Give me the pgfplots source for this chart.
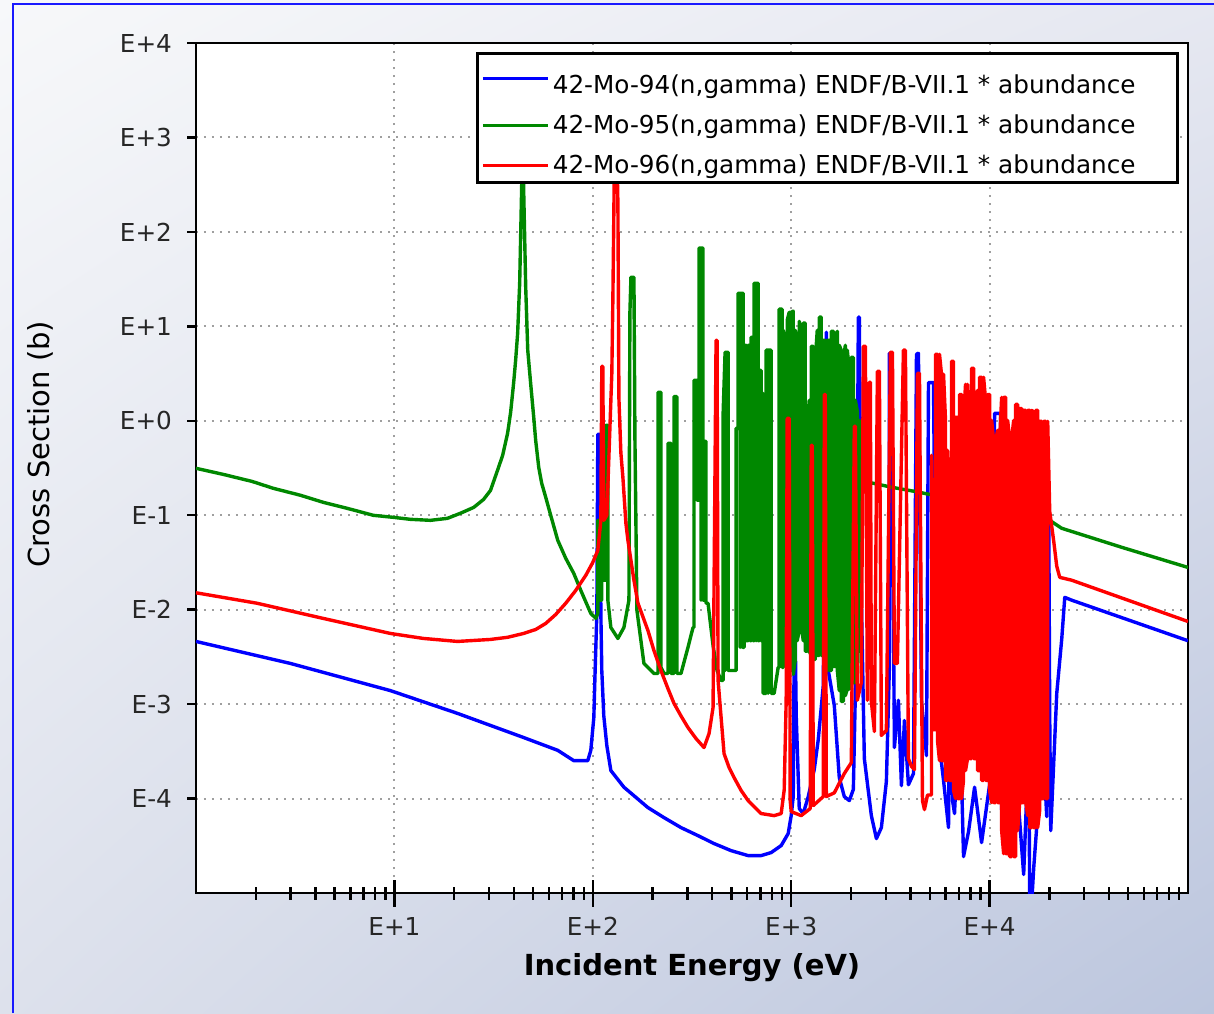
\documentclass[border=0pt]{standalone}
\usepackage{pgfplots}
\pgfplotsset{compat=1.18}
\usepackage{fontspec}
\setmainfont{DejaVu Sans}
\usetikzlibrary{calc,shadings}

\definecolor{moblue}{RGB}{0,0,255}
\definecolor{mogreen}{RGB}{0,136,0}
\definecolor{mored}{RGB}{255,0,0}
\definecolor{bgul}{RGB}{247,248,250}
\definecolor{bgur}{RGB}{230,232,241}
\definecolor{bgll}{RGB}{221,225,236}
\definecolor{bglr}{RGB}{188,198,222}
\definecolor{frameblue}{RGB}{25,25,255}

\begin{document}
\begin{tikzpicture}
% page background, in pixel units of the screenshot
\begin{scope}[x=0.5pt,y=0.5pt]
  \useasboundingbox (-196,-120) rectangle (1018,893);
  \shade[upper left=bgul, upper right=bgur, lower left=bgll, lower right=bglr]
    (-196,-120) rectangle (1018,893);
  \draw[frameblue, line width=1pt] (-183,-120) -- (-183,889) -- (1018,889);
\end{scope}
\begin{axis}[
  at={(0,0)}, anchor=south west,
  scale only axis, width=496pt, height=425pt,
  xmode=log, ymode=log,
  xmin=1, xmax=1e5, ymin=1e-5, ymax=1e4,
  axis background/.style={fill=white},
  axis line style={line width=1.2pt, black},
  tick style={line width=1.2pt, black},
  major tick length=13.5pt, minor tick length=6.5pt,
  xtick align=center,
  ytick align=outside,
  ytick style={/pgfplots/major tick length=4.5pt},
  tick pos=left,
  xtick={10,100,1000,10000},
  xticklabels={E+1,E+2,E+3,E+4},
  minor xtick={2,3,4,5,6,7,8,9,20,30,40,50,60,70,80,90,200,300,400,500,600,700,800,900,
    2000,3000,4000,5000,6000,7000,8000,9000,2e4,3e4,4e4,5e4,6e4,7e4,8e4,9e4},
  ytick={1e-4,1e-3,1e-2,1e-1,1,10,100,1000,10000},
  yticklabels={E-4,E-3,E-2,E-1,E+0,E+1,E+2,E+3,E+4},
  yminorticks=false,
  xmajorgrids, ymajorgrids,
  major grid style={gray!75, line width=1pt, dash pattern=on 1pt off 3pt},
  tick label style={font=\fontsize{12.35}{14}\selectfont, text=black!85},
  xticklabel style={yshift=-2pt},
  yticklabel style={xshift=5pt},
  xlabel={Incident Energy (eV)},
  ylabel={Cross Section (b)},
  every axis x label/.style={at={($(rel axis cs:0.5,0)+(0pt,-41pt)$)}, anchor=base,
    font=\bfseries\fontsize{14.5}{17}\selectfont},
  every axis y label/.style={at={($(rel axis cs:0,0.528)+(-78pt,0pt)$)}, anchor=center,
    rotate=90, font=\fontsize{14.5}{17}\selectfont},
  legend style={at={(rel axis cs:0.991,0.989)}, anchor=north east,
    draw=black, line width=1.5pt, fill=white,
    font=\fontsize{12.35}{14}\selectfont,
    inner xsep=1.75pt, inner ysep=1pt, row sep=5pt,
    nodes={inner xsep=1.75pt, inner ysep=2pt}},
  legend cell align=left,
  legend image code/.code={\draw[#1, line width=1.5pt] (0pt,0pt) -- (32.5pt,0pt);},
]

% 42-Mo-94
\addplot[moblue, line width=1.7pt, line join=round] coordinates {
(1,4.61e-3) (2.984,2.70e-3) (9.55,1.39e-3) (20.8,7.98e-4) (44.8,4.43e-4)
(66.6,3.24e-4) (80.2,2.52e-4) (94.34,2.52e-4) (97.7,3.24e-4) (101.2,7.21e-4)
(102.4,1.78e-3) (104.8,9.13e-3) (106.0,0.719) (108.5,0.719)
(109.8,9.13e-3) (111.0,2.27e-3) (113.6,7.52e-4) (117.7,3.63e-4) (123.3,1.98e-4)
(143.5,1.32e-4) (189.6,8.03e-5) (228.4,6.29e-5) (278.3,4.93e-5) (339.1,4.05e-5)
(408.4,3.34e-5) (497.7,2.81e-5) (606.5,2.49e-5) (705.5,2.49e-5) (792.5,2.68e-5)
(890.2,3.18e-5) (965.6,4.26e-5) (1000,6.60e-5) (1024,1.05e-4) (1036,5.21e-3) (1048,5.21e-3)
(1060,7.50e-4) (1098,7.84e-5) (1150,6.94e-5) (1219,1.05e-4) (1307,2.03e-4)
(1369,4.22e-4) (1451,1.57e-3) (1503,8.66) (1538,2.27e-3) (1649,9.68e-4)
(1747,1.67e-4) (1852,1.05e-4) (1963,9.52e-5) (2057,1.25e-4) (2130,4.28e-3)
(2180,12.5) (2205,12.5) (2257,1.32e-2) (2337,2.65e-4) (2535,6.60e-5)
(2688,3.77e-5) (2848,4.93e-5) (3018,1.52e-4) (3126,2.50e-3) (3126,5.19)
(3200,5.19) (3313,3.47e-4) (3470,1.10e-3) (3594,1.37e-4) (3722,6.71e-4)
(3898,1.40e-4) (4133,1.84e-4) (4280,5.06) (4379,5.19) (4535,1.10e-3)
(4807,2.85e-4) (4920,2.54) (5214,2.54) (5399,6.71e-4) (5859,1.56e-4)
(6208,4.93e-5) (6429,0.314) (6505,9.52e-5) (6656,6.94e-5) (7055,1.10e-3)
(7390,2.43e-5) (7832,4.47e-5) (8400,1.32e-4) (9112,3.42e-5) (1.0e4,1.40e-4)
(1.06e4,1.20) (1.136e4,1.20) (1.15e4,7.65e-5) (1.191e4,5.85e-5) (1.292e4,4.47e-5)
(1.369e4,1.56e-4) (1.485e4,1.57e-5) (1.575e4,4.11e-4) (1.593e4,8e-6) (1.631e4,8e-6)
(1.669e4,1.86e-5) (1.727e4,4.93e-5) (1.852e4,4.6e-4) (1.941e4,6.45e-5) (1.986e4,0.132)
(2.009e4,7.52e-4) (2.033e4,4.58e-5) (2.18e4,1.30e-3) (2.311e4,4.96e-3) (2.392e4,1.35e-2)
(2.595e4,1.26e-2) (1e5,4.69e-3)
};
\addlegendentry{\rule{0pt}{17pt}42-Mo-94(n,gamma) ENDF/B-VII.1 * abundance\hspace*{17.5pt}}

% 42-Mo-95
\addplot[mogreen, line width=1.7pt, line join=round] coordinates {
(1,0.314) (1.369,0.271) (1.918,0.228) (2.448,0.193) (3.352,0.163) (4.379,0.137)
(5.995,0.116) (7.832,9.98e-2) (9.88,9.50e-2) (12.05,9.05e-2) (15.21,8.83e-2)
(18.5,9.27e-2) (21.54,0.105) (25.1,0.121) (28.15,0.147) (30.5,0.183) (33.1,0.299)
(35.12,0.430) (37.2,0.737) (38.54,1.23) (39.9,2.50) (40.84,4.37) (41.8,8.45)
(42.8,28.6) (43.8,299) (44.3,1530) (44.8,299) (45.9,26.0)
(47.0,5.59) (48.6,2.50) (50.4,1.08) (51.53,0.621) (53.4,0.321) (55.26,0.218)
(57.9,0.155) (61.36,9.98e-2) (66.6,5.42e-2) (73.05,3.50e-2)
(80.2,2.42e-2) (87.0,1.60e-2) (97.7,9.13e-3) (103.6,8.08e-3)
(106.0,9.13e-3) (106.0,8.83e-2) (108.5,8.83e-2) (108.5,1.26e-2)
(111.0,1.26e-2) (111.0,0.299) (113.6,0.299) (113.6,2.05e-2)
(116.3,2.05e-2) (116.3,0.896) (119.1,0.896) (119.1,1.26e-2)
(123.3,6.48e-3) (133.8,4.96e-3) (143.5,6.48e-3) (152.1,1.26e-2)
(153.8,13.8) (155.7,33.1) (161.2,33.1) (163.1,0.621) (166.9,9.82e-3)
(181.0,2.70e-3) (203.3,2.11e-3)
(213.0,2.11e-3) (213.0,2.00) (220.5,2.00) (220.5,2.45e-3) (228.4,2.11e-3)
(239.2,2.11e-3) (239.2,0.577) (247.7,0.577) (247.7,2.11e-3)
(256.5,2.11e-3) (256.5,1.80) (265.6,1.80) (265.6,2.11e-3)
(278.3,2.11e-3) (301.8,3.99e-3) (320.0,6.48e-3)
(323.8,6.48e-3) (323.8,2.68) (335.2,2.68) (335.2,0.144)
(343.1,0.144) (343.1,67.3) (351.2,67.3) (351.2,1.26e-2) (351.2,67.3)
(359.4,67.3) (359.4,1.26e-2)
(363.6,1.26e-2) (363.6,0.606) (372.2,0.606) (372.2,1.17e-2)
(380.9,1.17e-2) (403.7,4.18e-3) (423.0,2.27e-3) (443.1,1.78e-3)
(453.5,1.78e-3) (453.5,1.14) (464.2,5.32) (464.2,2.27e-3) (464.2,5.32)
(480.7,5.32) (480.7,2.27e-3)
(515.3,2.27e-3)
(527.5,2.27e-3) (527.5,0.832) (539.9,0.832) (539.9,22.4) (552.6,22.4)
(552.6,3.99e-3) (552.6,22.4) (565.6,22.4) (565.6,3.99e-3) (565.6,22.4)
(572.2,22.4) (572.2,3.99e-3)
(579.0,3.99e-3) (579.0,6.30) (592.7,6.30) (592.7,4.69e-3)
(606.5,4.69e-3) (606.5,6.30) (620.8,6.30) (620.8,4.69e-3)
(628.0,4.69e-3) (628.0,7.67) (642.9,7.67) (642.9,4.69e-3)
(650.5,4.69e-3) (650.5,28.6) (665.6,28.6) (665.6,4.69e-3) (665.6,28.6)
(681.3,28.6) (681.3,4.69e-3)
(689.3,4.69e-3) (689.3,3.42) (705.5,3.42) (705.5,4.69e-3)
(713.7,4.69e-3) (713.7,1.95) (722.1,1.95) (722.1,1.30e-3)
(747.6,1.30e-3) (747.6,5.59) (765.2,5.59) (765.2,1.30e-3) (765.2,5.59)
(792.5,5.59) (792.5,1.30e-3)
(820.6,1.30e-3) (859.7,2.45e-3)
(869.8,2.45e-3) (869.8,15.2) (900.5,15.2) (900.5,2.45e-3)
(911.2,2.45e-3) (911.2,9.09) (932.6,7.12) (932.6,2.57e-3)
(954.6,2.57e-3) (954.6,11.6) (977.0,14.1) (977.0,2.57e-3)
(1000,2.27e-3) (1000,14.1) (1024,14.5) (1024,2.06e-3)
(1048,2.90e-3) (1048,9.09) (1072,7.12) (1072,4.69e-3)
(1098,6.03e-3) (1098,11.3) (1123,9.09) (1123,6.98e-3)
(1150,4.69e-3) (1150,10.8) (1177,10.8) (1177,3.63e-3)
(1205,3.63e-3) (1205,0.875) (1233,1.65) (1233,3.63e-3)
(1262,3.28e-3) (1262,6.15) (1292,6.15) (1292,2.97e-3)
(1322,2.97e-3) (1322,4.37) (1353,9.09) (1353,3.28e-3)
(1385,3.28e-3) (1385,12.5) (1418,12.5) (1418,3.28e-3)
(1451,3.28e-3) (1451,7.12) (1485,7.12) (1485,2.90e-3)
(1521,2.27e-3) (1521,7.12) (1557,7.12) (1557,2.27e-3)
(1593,2.27e-3) (1593,8.87) (1631,8.87) (1631,2.50e-3)
(1669,2.50e-3) (1669,7.12) (1708,8.87) (1708,2.27e-3)
(1747,1.39e-3) (1747,6.30) (1788,5.59) (1788,1.07e-3)
(1831,1.07e-3) (1831,4.37) (1874,6.30) (1874,1.23e-3)
(1918,1.44e-3) (1918,5.59) (1963,3.43) (1963,1.44e-3)
(2009,1.57e-3) (2009,4.70) (2057,4.70) (2057,1.69e-3)
(2105,1.69e-3) (2105,1.65) (2154,1.26) (2154,1.69e-3)
(2205,1.26e-2) (2205,1.01) (2257,0.719) (2257,0.234)
(2337,0.228) (2595,0.218) (3200,0.198) (4181,0.179) (5214,0.163) (6813,0.140)
(1.024e4,0.113) (1.831e4,9.05e-2) (2.009e4,8.83e-2) (2.311e4,7.27e-2)
(4.642e4,4.57e-2) (1e5,2.80e-2)
};
\addlegendentry{42-Mo-95(n,gamma) ENDF/B-VII.1 * abundance\hspace*{17.5pt}}

% 42-Mo-96
\addplot[mored, line width=1.7pt, line join=round] coordinates {
(1,1.51e-2) (2.03,1.17e-2) (4.38,8.08e-3) (9.55,5.60e-3) (14.0,4.96e-3)
(20.8,4.61e-3) (30.5,4.84e-3) (37.2,5.10e-3) (44.8,5.60e-3) (51.53,6.17e-3)
(57.9,7.15e-3) (65.05,8.90e-3) (73.05,1.17e-2) (82.06,1.60e-2) (92.2,2.31e-2)
(100,3.17e-2) (106.0,4.25e-2) (109.8,8.83e-2)
(111.0,3.77) (112.3,3.77) (113.6,8.83e-2) (117.7,0.100) (124.7,3.18)
(126.2,18.9) (129.2,1530) (132.2,737) (133.8,206) (135.4,1.73)
(138.5,0.458) (141.8,0.252) (146.8,8.24e-2) (150.3,5.43e-2) (161.2,2.05e-2)
(168.9,1.17e-2) (189.6,6.03e-3) (203.3,3.70e-3) (220.5,2.27e-3) (239.2,1.46e-3)
(256.5,1.02e-3) (278.3,7.50e-4) (301.8,5.65e-4) (331.3,4.32e-4)
(363.6,3.47e-4) (385.4,4.88e-4) (403.7,9.2e-4) (418.1,7.12) (423.0,7.12)
(428.0,1.78e-3) (458.8,2.99e-4) (486.3,2.13e-4) (515.3,1.67e-4) (559.1,1.22e-4)
(606.5,9.52e-5) (705.5,6.94e-5)
(820.6,6.60e-5) (890.2,6.94e-5) (921.8,1.23e-4) (943.4,1.10e-3) (954.6,1.06)
(977.0,1.06) (988.4,9.52e-5) (1000,7.28e-5) (1123,6.60e-5) (1247,7.84e-5)
(1262,0.55) (1277,0.55) (1292,8.43e-5) (1451,1.05e-4) (1469,1.90)
(1485,1.90) (1503,1.05e-4) (1649,1.15e-4) (1852,1.84e-4) (2009,2.40e-4)
(2080,0.875) (2105,0.875) (2154,1.10e-3) (2257,1.69e-3) (2311,6.15)
(2365,6.15) (2420,1.10e-3) (2477,2.56) (2506,2.56) (2535,1.07e-3)
(2626,5.13e-4) (2719,3.34) (2783,3.34) (2848,4.66e-4) (3018,5.26e-4)
(3162,5.32) (3238,5.32) (3313,2.70e-3) (3430,2.70e-3) (3679,5.59)
(3765,5.59) (3898,2.65e-4) (4037,2.19e-4) (4181,2.03e-4) (4329,3.18)
(4431,3.18) (4588,9.52e-5) (4696,7.65e-5) (4863,1.09e-4)
(5094,1.09e-4) (5094,0.430) (5214,1.26e-2) (5214,5.38e-4)
(5337,5.38e-4) (5337,5.06) (5463,5.06) (5463,4.11e-4)
(5591,2.52e-4) (5591,5.06) (5722,3.11) (5722,2.52e-4)
(5859,2.52e-4) (5859,3.11) (5995,1.01) (5995,1.56e-4)
(6136,1.56e-4) (6136,0.487) (6280,0.144) (6280,1.56e-4)
(6429,1.56e-4) (6429,4.27) (6580,4.27) (6580,1.22e-4)
(6734,1.0e-4) (6734,1.09) (6893,1.09) (6893,1.0e-4)
(7055,1.0e-4) (7055,1.90) (7221,1.90) (7221,1.0e-4)
(7390,1.56e-4) (7390,1.01) (7564,2.43) (7564,1.98e-4)
(7742,2.65e-4) (7742,2.43) (7925,0.793) (7925,2.65e-4)
(8111,2.65e-4) (8111,3.60) (8303,3.60) (8303,2.65e-4)
(8498,2.65e-4) (8498,1.65) (8698,2.10) (8698,1.98e-4)
(8902,1.98e-4) (8902,2.89) (9112,2.89) (9112,1.56e-4)
(9326,1.56e-4) (9326,2.89) (9546,1.65) (9546,1.56e-4)
(9770,1.56e-4) (9770,1.90) (1.0e4,1.90) (1.0e4,1.22e-4)
(1.024e4,9.07e-5) (1.024e4,1.01) (1.048e4,0.621) (1.048e4,9.07e-5)
(1.072e4,9.07e-5) (1.072e4,0.621) (1.098e4,0.793) (1.098e4,9.07e-5)
(1.123e4,9.07e-5) (1.123e4,0.621) (1.150e4,1.77) (1.150e4,4.58e-5)
(1.177e4,2.61e-5) (1.177e4,1.77) (1.205e4,1.77) (1.205e4,2.61e-5)
(1.233e4,2.61e-5) (1.233e4,1.01) (1.262e4,0.637) (1.262e4,2.43e-5)
(1.292e4,2.43e-5) (1.292e4,0.637) (1.322e4,1.01) (1.322e4,2.43e-5)
(1.353e4,2.43e-5) (1.353e4,1.49) (1.385e4,1.49) (1.385e4,4.58e-5)
(1.418e4,9.07e-5) (1.418e4,1.35) (1.451e4,1.35) (1.451e4,9.07e-5)
(1.485e4,9.07e-5) (1.485e4,1.29) (1.521e4,1.29) (1.521e4,9.07e-5)
(1.557e4,6.60e-5) (1.557e4,1.29) (1.593e4,1.29) (1.593e4,4.93e-5)
(1.631e4,4.93e-5) (1.631e4,1.29) (1.669e4,1.23) (1.669e4,4.93e-5)
(1.708e4,4.93e-5) (1.708e4,1.29) (1.747e4,1.29) (1.747e4,4.93e-5)
(1.788e4,7.46e-5) (1.788e4,0.988) (1.831e4,0.988) (1.831e4,1.0e-4)
(1.874e4,1.0e-4) (1.874e4,0.988) (1.918e4,0.988) (1.918e4,1.0e-4)
(1.963e4,1.0e-4) (1.963e4,0.988)
(2.009e4,0.110) (2.105e4,5.29e-2) (2.18e4,2.88e-2) (2.257e4,2.20e-2) (2.595e4,2.05e-2)
(1e5,7.5e-3)
};
\addlegendentry{42-Mo-96(n,gamma) ENDF/B-VII.1 * abundance\hspace*{17.5pt}}

\end{axis}
\end{tikzpicture}
\end{document}
